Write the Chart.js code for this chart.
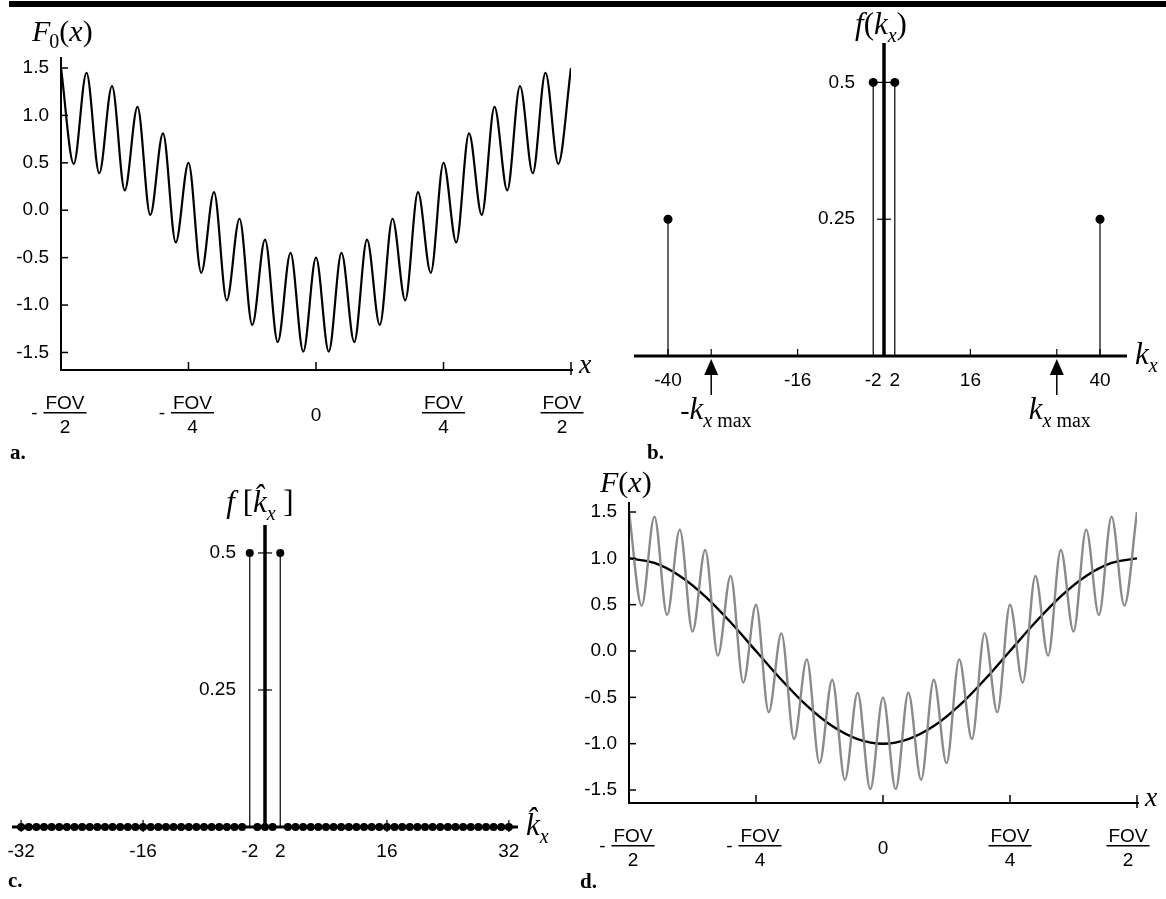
<!DOCTYPE html>
<html lang="en">
<head>
<meta charset="UTF-8">
<title>F0(x), f(kx), f[kx], F(x)</title>
<script src="https://cdn.jsdelivr.net/npm/chart.js"></script>
<style>
  html, body { margin: 0; padding: 0; background: #fff; }
  #page { position: relative; width: 1166px; height: 899px; overflow: hidden; background: #fff; }
  #page canvas { position: absolute; left: 0; top: 0; }
  #topbar { position: absolute; left: 9px; top: 1px; width: 1157px; height: 6px; background: #000; }
</style>
</head>
<body>
<div id="page">
  <div id="topbar"></div>
  <canvas id="chartA" width="1166" height="899"></canvas>
  <canvas id="chartB" width="1166" height="899"></canvas>
  <canvas id="chartC" width="1166" height="899"></canvas>
  <canvas id="chartD" width="1166" height="899"></canvas>
</div>

<script>
// ---- data ----
// a / d: F0(x) peaks and troughs, x in units of FOV
const xExt = [-0.5, -0.475, -0.45, -0.425, -0.4, -0.375, -0.35, -0.325, -0.3, -0.275,
              -0.25, -0.225, -0.2, -0.175, -0.15, -0.125, -0.1, -0.075, -0.05, -0.025,
              0, 0.025, 0.05, 0.075, 0.1, 0.125, 0.15, 0.175, 0.2, 0.225,
              0.25, 0.275, 0.3, 0.325, 0.35, 0.375, 0.4, 0.425, 0.45, 0.475, 0.5];
const f0Ext = [1.50, 0.49, 1.45, 0.39, 1.31, 0.21, 1.09, -0.05, 0.81, -0.34,
               0.50, -0.66, 0.19, -0.95, -0.09, -1.21, -0.31, -1.39, -0.45, -1.49,
               -0.50, -1.49, -0.45, -1.39, -0.31, -1.21, -0.09, -0.95, 0.19, -0.66,
               0.50, -0.34, 0.81, -0.05, 1.09, 0.21, 1.31, 0.39, 1.45, 0.49, 1.50];

// d: filtered F(x)
const xSmooth = [-0.5, -0.45, -0.4, -0.35, -0.3, -0.25, -0.2, -0.15, -0.1, -0.05, 0,
                 0.05, 0.1, 0.15, 0.2, 0.25, 0.3, 0.35, 0.4, 0.45, 0.5];
const fSmooth = [1.00, 0.95, 0.81, 0.59, 0.31, 0.00, -0.31, -0.59, -0.81, -0.95, -1.00,
                 -0.95, -0.81, -0.59, -0.31, 0.00, 0.31, 0.59, 0.81, 0.95, 1.00];

const fTickVals = [-1.5, -1.0, -0.5, 0.0, 0.5, 1.0, 1.5];
const fTickLabels = ['-1.5', '-1.0', '-0.5', '0.0', '0.5', '1.0', '1.5'];
const xTickVals = [-0.5, -0.25, 0, 0.25, 0.5];
const xTickLabels = ['-FOV/2', '-FOV/4', '0', 'FOV/4', 'FOV/2'];

// b: continuous spectrum
const kxStem = [-40, -2, 2, 40];
const fkStem = [0.25, 0.5, 0.5, 0.25];
const kxTickVals = [-40, -16, -2, 2, 16, 40];
const kxMaxVals = [-32, 32];
const fkTickVals = [0.25, 0.5];
const fkTickLabels = ['0.25', '0.5'];

// c: sampled spectrum
const kHat = [-32, -31, -30, -29, -28, -27, -26, -25, -24, -23, -22, -21, -20, -19, -18, -17,
              -16, -15, -14, -13, -12, -11, -10, -9, -8, -7, -6, -5, -4, -3, -2, -1, 0,
              1, 2, 3, 4, 5, 6, 7, 8, 9, 10, 11, 12, 13, 14, 15, 16,
              17, 18, 19, 20, 21, 22, 23, 24, 25, 26, 27, 28, 29, 30, 31, 32];
const fkHat = [0, 0, 0, 0, 0, 0, 0, 0, 0, 0, 0, 0, 0, 0, 0, 0,
               0, 0, 0, 0, 0, 0, 0, 0, 0, 0, 0, 0, 0, 0, 0.5, 0, 0,
               0, 0.5, 0, 0, 0, 0, 0, 0, 0, 0, 0, 0, 0, 0, 0, 0,
               0, 0, 0, 0, 0, 0, 0, 0, 0, 0, 0, 0, 0, 0, 0, 0];
const kHatTickVals = [-32, -16, -2, 2, 16, 32];

// ---- helpers ----
const W = 1166, H = 899;
const SANS = '"Liberation Sans", Arial, sans-serif';
const SERIF = '"Liberation Serif", "Times New Roman", serif';
const IT = s => 'italic ' + s + 'px ' + SERIF;
const RM = s => s + 'px ' + SERIF;
const TICK_FONT = '19px ' + SANS;

function pts(xs, ys) { return xs.map((x, i) => ({ x: x, y: ys[i] })); }

function stemPts(ks, vs) {
  const out = [];
  ks.forEach((k, i) => {
    if (vs[i] !== 0) out.push({ x: k, y: 0 }, { x: k, y: vs[i] }, { x: k, y: null });
  });
  return out;
}

function opts(area, xr, yr) {
  return {
    responsive: false, animation: false, events: [],
    layout: { padding: { left: area.l, top: area.t, right: W - area.r, bottom: H - area.b } },
    plugins: { legend: { display: false }, tooltip: { enabled: false } },
    scales: {
      x: { type: 'linear', display: false, min: xr[0], max: xr[1] },
      y: { type: 'linear', display: false, min: yr[0], max: yr[1] }
    }
  };
}

function runs(ctx, x, y, list, align) {
  let w = 0;
  list.forEach(r => { ctx.font = r.f; r.w = ctx.measureText(r.t).width; w += r.w + (r.dx || 0); });
  let cx = align === 'center' ? x - w / 2 : x;
  ctx.textAlign = 'left';
  ctx.textBaseline = 'alphabetic';
  list.forEach(r => {
    cx += (r.dx || 0);
    ctx.font = r.f;
    ctx.fillText(r.t, cx, y + (r.dy || 0));
    cx += r.w;
  });
}

// tick label under the x axis: plain text or "-NUM/DEN" as a stacked fraction
function fracLabel(ctx, cx, y0, label) {
  const neg = label[0] === '-';
  const body = neg ? label.slice(1) : label;
  ctx.font = TICK_FONT;
  ctx.textAlign = 'center';
  ctx.textBaseline = 'alphabetic';
  if (body.indexOf('/') < 0) { ctx.fillText(body, cx, y0 + 51); return; }
  const parts = body.split('/');
  const w = ctx.measureText(parts[0]).width + 4;
  const fx = cx + (neg ? 4 : 0);
  ctx.fillText(parts[0], fx, y0 + 39);
  ctx.fillText(parts[1], fx, y0 + 63);
  ctx.fillRect(fx - w / 2, y0 + 42, w, 1.5);
  if (neg) ctx.fillText('-', fx - w / 2 - 9, y0 + 49);
}

function letter(ctx, t, x, y) {
  ctx.font = 'bold 21px ' + SERIF;
  ctx.textAlign = 'left';
  ctx.textBaseline = 'alphabetic';
  ctx.fillText(t, x, y);
}

// spatial panels (a, d)
function fovDeco(title, tag, tagX, tagY) {
  return {
    id: 'fov' + tag,
    afterDraw(chart) {
      const ctx = chart.ctx, sx = chart.scales.x, sy = chart.scales.y, ca = chart.chartArea;
      const x0 = ca.left, yb = ca.bottom;
      ctx.save();
      ctx.strokeStyle = '#000';
      ctx.fillStyle = '#000';
      ctx.lineWidth = 2;
      ctx.beginPath();
      ctx.moveTo(x0, ca.top);
      ctx.lineTo(x0, yb);
      ctx.lineTo(ca.right + 2, yb);
      ctx.stroke();

      ctx.lineWidth = 1.5;
      fTickVals.forEach((v, i) => {
        const y = sy.getPixelForValue(v);
        ctx.beginPath(); ctx.moveTo(x0, y); ctx.lineTo(x0 + 7, y); ctx.stroke();
        ctx.font = TICK_FONT;
        ctx.textAlign = 'right';
        ctx.textBaseline = 'middle';
        ctx.fillText(fTickLabels[i], x0 - 12, y);
      });
      xTickVals.forEach((v, i) => {
        const x = sx.getPixelForValue(v);
        const last = i === xTickVals.length - 1;
        ctx.beginPath(); ctx.moveTo(x, yb - 8); ctx.lineTo(x, yb + (last ? 5 : 0)); ctx.stroke();
        fracLabel(ctx, last ? x - 9 : x, yb, xTickLabels[i]);
      });

      ctx.fillStyle = '#000';
      runs(ctx, ca.right + 8, yb + 3, [{ t: 'x', f: IT(28) }], 'left');
      runs(ctx, title.x, title.y, title.parts, 'left');
      letter(ctx, tag, tagX, tagY);
      ctx.restore();
    }
  };
}

// spectrum panels (b, c)
function specDeco(cfg) {
  return {
    id: 'spec' + cfg.tag,
    afterDraw(chart) {
      const ctx = chart.ctx, sx = chart.scales.x, sy = chart.scales.y, ca = chart.chartArea;
      const x0 = sx.getPixelForValue(0), y0 = sy.getPixelForValue(0);
      ctx.save();
      ctx.strokeStyle = '#000';
      ctx.fillStyle = '#000';
      ctx.lineWidth = 3;
      ctx.beginPath(); ctx.moveTo(ca.left, y0); ctx.lineTo(ca.right, y0); ctx.stroke();
      ctx.lineWidth = 3.5;
      ctx.beginPath(); ctx.moveTo(x0, ca.top); ctx.lineTo(x0, y0); ctx.stroke();

      ctx.lineWidth = 1.2;
      fkTickVals.forEach((v, i) => {
        const y = sy.getPixelForValue(v);
        ctx.beginPath(); ctx.moveTo(x0 - 7, y); ctx.lineTo(x0 + 7, y); ctx.stroke();
        ctx.font = TICK_FONT;
        ctx.textAlign = 'right';
        ctx.textBaseline = 'middle';
        ctx.fillText(fkTickLabels[i], x0 - 29, y);
      });

      cfg.ticks.forEach(v => {
        const x = sx.getPixelForValue(v);
        if (Math.abs(v) > 2) {
          ctx.beginPath(); ctx.moveTo(x, y0 - 7); ctx.lineTo(x, y0 + cfg.tickDown); ctx.stroke();
        }
        ctx.font = TICK_FONT;
        ctx.textAlign = 'center';
        ctx.textBaseline = 'middle';
        ctx.fillText(String(v), x, y0 + cfg.labelDy);
      });

      (cfg.arrows || []).forEach(v => {
        const x = sx.getPixelForValue(v);
        ctx.lineWidth = 1.2;
        ctx.beginPath(); ctx.moveTo(x, y0 - 7); ctx.lineTo(x, y0); ctx.stroke();
        ctx.beginPath();
        ctx.moveTo(x, y0 + 3); ctx.lineTo(x - 7, y0 + 19); ctx.lineTo(x + 7, y0 + 19);
        ctx.closePath(); ctx.fill();
        ctx.lineWidth = 1.5;
        ctx.beginPath(); ctx.moveTo(x, y0 + 18); ctx.lineTo(x, y0 + 39); ctx.stroke();
        const parts = [];
        if (v < 0) parts.push({ t: '-', f: IT(28) });
        parts.push({ t: 'k', f: IT(31) }, { t: 'x', f: IT(20), dy: 8 }, { t: ' max', f: RM(20), dy: 8 });
        runs(ctx, x - (v < 0 ? 31 : 28), y0 + 63, parts, 'left');
      });

      runs(ctx, ca.right + 8, y0 + 8, cfg.axisParts, 'left');
      runs(ctx, cfg.title.x, cfg.title.y, cfg.title.parts, 'center');
      letter(ctx, cfg.tag, cfg.tagX, cfg.tagY);
      ctx.restore();
    }
  };
}

// ---- a ----
new Chart(document.getElementById('chartA'), {
  type: 'scatter',
  data: { datasets: [{
    data: pts(xExt, f0Ext), showLine: true, borderColor: '#000', borderWidth: 2.2,
    pointRadius: 0, cubicInterpolationMode: 'monotone'
  }] },
  options: opts({ l: 61, r: 571, t: 57, b: 370 }, [-0.5, 0.5], [-1.685, 1.616]),
  plugins: [fovDeco({ x: 32, y: 41, parts: [
    { t: 'F', f: IT(30) }, { t: '0', f: RM(20), dy: 7, dx: -1 },
    { t: '(', f: RM(30) }, { t: 'x', f: IT(30) }, { t: ')', f: RM(30) }
  ] }, 'a.', 10, 459)]
});

// ---- b ----
new Chart(document.getElementById('chartB'), {
  type: 'scatter',
  data: { datasets: [
    { data: stemPts(kxStem, fkStem), showLine: true, spanGaps: false, borderColor: '#000',
      borderWidth: 1.2, pointRadius: 0, clip: false },
    { data: pts(kxStem, fkStem), pointRadius: 4.5, pointBackgroundColor: '#000',
      pointBorderWidth: 0, clip: false }
  ] },
  options: opts({ l: 634, r: 1127, t: 43, b: 376 }, [-46.3, 45.0], [-0.0365, 0.572]),
  plugins: [specDeco({
    tag: 'b.', tagX: 647, tagY: 459,
    ticks: kxTickVals, tickDown: 0, labelDy: 25, arrows: kxMaxVals,
    axisParts: [{ t: 'k', f: IT(31) }, { t: 'x', f: IT(20), dy: 8 }],
    title: { x: 881, y: 34, parts: [
      { t: 'f', f: IT(31) }, { t: '(', f: RM(31) }, { t: 'k', f: IT(31) },
      { t: 'x', f: IT(20), dy: 8 }, { t: ')', f: RM(31) }
    ] }
  })]
});

// ---- c ----
new Chart(document.getElementById('chartC'), {
  type: 'scatter',
  data: { datasets: [
    { data: stemPts(kHat, fkHat), showLine: true, spanGaps: false, borderColor: '#000',
      borderWidth: 1.2, pointRadius: 0, clip: false },
    { data: pts(kHat, fkHat), pointRadius: 4, pointBackgroundColor: '#000',
      pointBorderWidth: 0, clip: false }
  ] },
  options: opts({ l: 12, r: 518, t: 525, b: 847 }, [-33.2, 33.2], [-0.0365, 0.551]),
  plugins: [specDeco({
    tag: 'c.', tagX: 8, tagY: 887,
    ticks: kHatTickVals, tickDown: 5, labelDy: 25,
    axisParts: [{ t: 'k\u0302', f: IT(31) }, { t: 'x', f: IT(20), dy: 8 }],
    title: { x: 260, y: 512, parts: [
      { t: 'f', f: IT(31) }, { t: ' [', f: RM(31) }, { t: 'k\u0302', f: IT(31) },
      { t: 'x', f: IT(20), dy: 8 }, { t: ' ]', f: RM(31) }
    ] }
  })]
});

// ---- d ----
new Chart(document.getElementById('chartD'), {
  type: 'scatter',
  data: { datasets: [
    { data: pts(xExt, f0Ext), showLine: true, borderColor: '#8a8a8a', borderWidth: 2.4,
      pointRadius: 0, cubicInterpolationMode: 'monotone' },
    { data: pts(xSmooth, fSmooth), showLine: true, borderColor: '#000', borderWidth: 2.4,
      pointRadius: 0, cubicInterpolationMode: 'monotone' }
  ] },
  options: opts({ l: 629, r: 1137, t: 502, b: 803 }, [-0.5, 0.5], [-1.640, 1.608]),
  plugins: [fovDeco({ x: 600, y: 492, parts: [
    { t: 'F', f: IT(30) }, { t: '(', f: RM(30) }, { t: 'x', f: IT(30) }, { t: ')', f: RM(30) }
  ] }, 'd.', 580, 888)]
});
</script>
</body>
</html>
